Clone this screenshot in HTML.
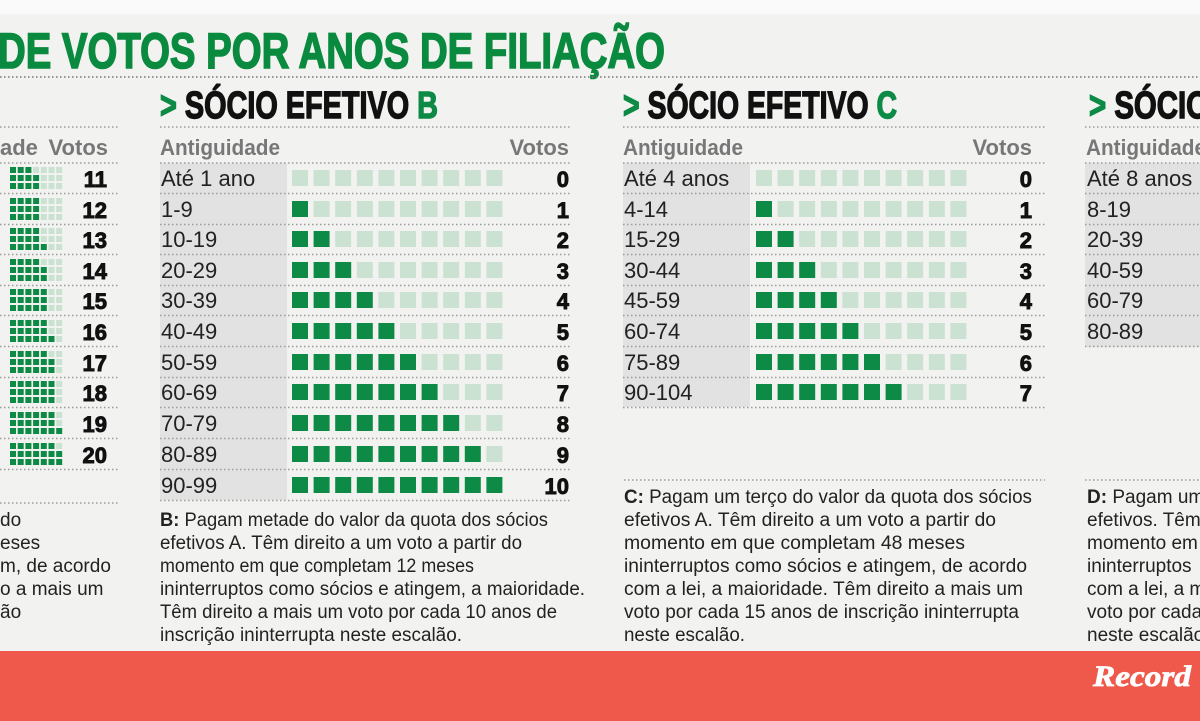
<!DOCTYPE html>
<html><head><meta charset="utf-8"><style>
html,body{margin:0;padding:0;background:#f2f3f1;}
svg{display:block}
</style></head><body>
<svg id="s" width="1200" height="721" xmlns="http://www.w3.org/2000/svg" font-family="Liberation Sans Narrow, Liberation Sans, sans-serif">
<rect width="1200" height="721" fill="#f2f3f1"/>
<rect width="1200" height="14" fill="#fafafa"/>
<text x="-2" y="68" font-size="50" font-weight="bold" fill="#0a8a3e" stroke="#0a8a3e" stroke-width="1.6" textLength="667" lengthAdjust="spacingAndGlyphs">DE VOTOS POR ANOS DE FILIAÇÃO</text>
<g id="g"></g>
<rect y="651" width="1200" height="70" fill="#ef594b"/>
<text x="1093" y="686" style="font-family:'Liberation Serif',serif" font-size="30" font-style="italic" font-weight="bold" fill="#fff" stroke="#fff" stroke-width="0.8" textLength="98" lengthAdjust="spacingAndGlyphs">Record</text>
</svg>
<script>
var g=document.getElementById('g'),h='';
function dots(x1,x2,y,c){h+='<line x1="'+x1+'" x2="'+x2+'" y1="'+y+'" y2="'+y+'" stroke="'+(c||'#9a9c9a')+'" stroke-width="1.5" stroke-dasharray="1.5 2.5"/>';}
function t(x,y,s,sz,fill,extra){h+='<text x="'+x+'" y="'+y+'" font-size="'+sz+'" fill="'+fill+'" '+(extra||'')+'>'+s+'</text>';}
var G='#0d8a45',L='#cbe1d2';
var NUM='style="font-family:\'Liberation Sans\',sans-serif" font-weight="bold" stroke="#111" stroke-width="0.9" text-anchor="end"';
dots(0,1200,77,'#777');
var rows=[178,209,239,270,300,331,362,392,423,454,485];
function col(x0,x1,title,tl,labels,sqx,votesRight){
  t(x0,118,'<tspan fill="#0d8a45" stroke="#0d8a45">&gt;</tspan> SÓCIO EFETIVO <tspan fill="#0d8a45" stroke="#0d8a45">'+title+'</tspan>',38,'#111','font-weight="bold" stroke="#111" stroke-width="1.4" textLength="'+tl+'" lengthAdjust="spacingAndGlyphs"');
  dots(x0,x1,127);
  t(x0,155,'Antiguidade',22,'#777','font-weight="bold" textLength="120" lengthAdjust="spacingAndGlyphs"');
  t(votesRight,155,'Votos',22,'#777','font-weight="bold" text-anchor="end"');
  var n=labels.length;
  h+='<rect x="'+x0+'" y="163" width="127" height="'+(rows[n-1]+15-163)+'" fill="#e1e2e1"/>';
  dots(x0,x1,163);
  for(var i=0;i<n;i++){
    var y=rows[i];
    t(x0+1,y+8,labels[i],22,'#222','');
    if(sqx!=null){for(var k=0;k<10;k++){h+='<rect x="'+(sqx+k*21.6)+'" y="'+(y-8)+'" width="16" height="16" fill="'+(k<i?G:L)+'"/>';}}
    t(votesRight,y+9,i,22,'#111',NUM);
    dots(x0,x1,y+15.5);
  }
}
col(160,570,'B',278,['Até 1 ano','1-9','10-19','20-29','30-39','40-49','50-59','60-69','70-79','80-89','90-99'],292,569);
col(623,1045,'C',274,['Até 4 anos','4-14','15-29','30-44','45-59','60-74','75-89','90-104'],756,1032);
t(1089,118,'<tspan fill="#0d8a45" stroke="#0d8a45">&gt;</tspan> SÓCIO',38,'#111','font-weight="bold" stroke="#111" stroke-width="1.4" textLength="120" lengthAdjust="spacingAndGlyphs"');
dots(1085,1200,127);
t(1086,155,'Antiguidade',22,'#777','font-weight="bold" textLength="120" lengthAdjust="spacingAndGlyphs"');
h+='<rect x="1085" y="163" width="115" height="184" fill="#e1e2e1"/>';dots(1085,1200,163);
['Até 8 anos','8-19','20-39','40-59','60-79','80-89'].forEach(function(l,i){t(1087,rows[i]+8,l,22,'#222','');dots(1085,1200,rows[i]+15.5);});
dots(0,118,127);
t(0,155,'ade',22,'#777','font-weight="bold"');t(108,155,'Votos',22,'#777','font-weight="bold" text-anchor="end"');
dots(0,118,163);
var fills=[[3,4,4],[4,4,4],[4,4,5],[4,5,5],[5,5,5],[5,5,6],[5,6,6],[6,6,6],[6,6,7],[6,7,7]];
for(var i=0;i<10;i++){var y=rows[i];
  for(var r=0;r<3;r++)for(var k=0;k<7;k++)h+='<rect x="'+(10+k*7.7)+'" y="'+(y-11+r*8)+'" width="6" height="6" fill="'+(k<fills[i][r]?G:L)+'"/>';
  t(107,y+9,11+i,22,'#111',NUM);dots(0,118,y+15.5);}
function para(x,y0,lines){lines.forEach(function(l,i){var s=l[0],w=l[1];
  s=s.replace(/^([BCD]:)/,'<tspan font-weight="bold">$1</tspan>');
  t(x,y0+i*23,s,19,'#222',w?'textLength="'+w+'" lengthAdjust="spacingAndGlyphs"':'');});}
para(160,526,[['B: Pagam metade do valor da quota dos sócios',388],['efetivos A. Têm direito a um voto a partir do',362],['momento em que completam 12 meses',314],['ininterruptos como sócios e atingem, a maioridade.',425],['Têm direito a mais um voto por cada 10 anos de',397],['inscrição ininterrupta neste escalão.',302]]);
dots(624,1045,480);dots(1085,1200,480);
para(624,503,[['C: Pagam um terço do valor da quota dos sócios',408],['efetivos A. Têm direito a um voto a partir do',372],['momento em que completam 48 meses',341],['ininterruptos como sócios e atingem, de acordo',403],['com a lei, a maioridade. Têm direito a mais um',399],['voto por cada 15 anos de inscrição ininterrupta',395],['neste escalão.',121]]);
para(1087,503,[['D: Pagam um'],['efetivos. Têm'],['momento em'],['ininterruptos'],['com a lei, a m'],['voto por cada'],['neste escalão']]);
dots(0,118,503);
para(0,526,[['do'],['eses'],['m, de acordo'],['o a mais um'],['ão']]);
g.innerHTML=h;
</script>
</body></html>
